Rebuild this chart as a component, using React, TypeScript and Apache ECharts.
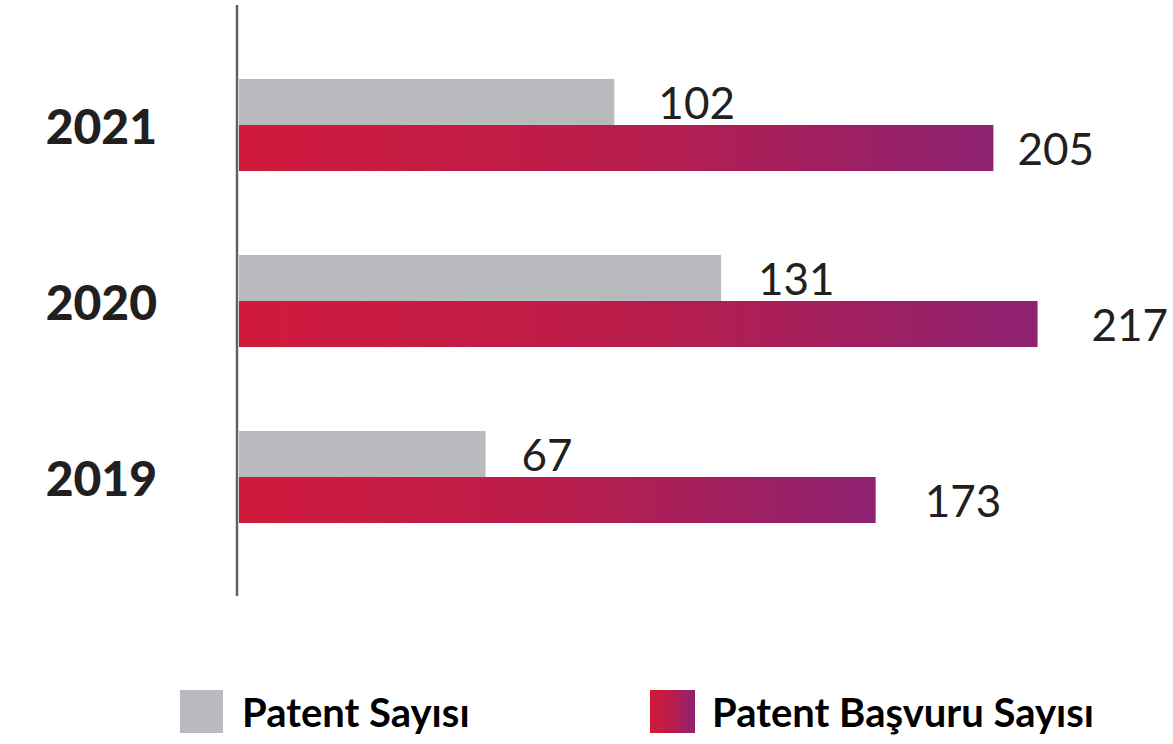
import React, { useEffect, useRef } from "react";
import * as echarts from "echarts";

const years = ["2019", "2020", "2021"];
const patentCount = [67, 131, 102];
const applicationCount = [173, 217, 205];
const seriesNames = ["Patent Sayısı", "Patent Başvuru Sayısı"];

// label gaps (px) between bar end and value text
const grayLabelGap = [36, 37, 44];
const redLabelGap = [49, 54, 24];

const TEXT = "#231f20";
const FONT = "Lato, 'Noto Sans', sans-serif";

export default function App() {
  const ref = useRef<HTMLDivElement>(null);
  useEffect(() => {
    if (!ref.current) return;
    const chart = echarts.init(ref.current, null, { renderer: "svg" });
    const grad = new echarts.graphic.LinearGradient(0, 0, 1, 0, [
      { offset: 0, color: "#d01a3c" },
      { offset: 0.5, color: "#b91d4b" },
      { offset: 1, color: "#8d2272" },
    ]);
    const valueLabel = {
      show: true,
      position: "right" as const,
      fontFamily: FONT,
      fontSize: 44,
      fontWeight: 400,
      color: TEXT,
    };
    const legendText = {
      fontFamily: FONT,
      fontSize: 40,
      fontWeight: 700,
      color: "#000",
      padding: [4, 0, 0, 14],
    };
    chart.setOption({
      animation: false,
      backgroundColor: "#ffffff",
      grid: { left: 239, top: 37, height: 528, right: 14 },
      xAxis: {
        type: "value",
        min: 0,
        max: 250,
        show: false,
      },
      yAxis: {
        type: "category",
        data: years,
        axisLine: { show: false },
        axisTick: { show: false },
        axisLabel: {
          margin: 82,
          fontFamily: FONT,
          fontSize: 48,
          fontWeight: 900,
          color: TEXT,
          padding: [12, 0, 0, 0],
        },
      },
      legend: [
        {
          data: [seriesNames[0]],
          left: 180,
          top: 690,
          padding: 0,
          itemWidth: 43,
          itemHeight: 43,
          icon: "rect",
          textStyle: legendText,
        },
        {
          data: [seriesNames[1]],
          left: 650,
          top: 690,
          padding: 0,
          itemWidth: 45,
          itemHeight: 43,
          icon: "rect",
          textStyle: { ...legendText, padding: [4, 0, 0, 12] },
        },
      ],
      graphic: [
        {
          type: "line",
          shape: { x1: 237, y1: 5, x2: 237, y2: 596 },
          style: { stroke: "#606164", lineWidth: 2.5 },
        },
      ],
      series: [
        {
          name: seriesNames[0],
          type: "bar",
          barWidth: 46,
          barGap: "0%",
          itemStyle: { color: "#b9babd" },
          data: patentCount.map((v, i) => ({
            value: v,
            label: { ...valueLabel, distance: grayLabelGap[i] },
          })),
        },
        {
          name: seriesNames[1],
          type: "bar",
          barWidth: 46,
          barGap: "0%",
          itemStyle: { color: grad },
          data: applicationCount.map((v, i) => ({
            value: v,
            label: { ...valueLabel, distance: redLabelGap[i] },
          })),
        },
      ],
    });
    return () => chart.dispose();
  }, []);
  return (
    <div
      ref={ref}
      style={{ position: "absolute", left: 0, top: 0, width: 1173, height: 744 }}
    />
  );
}
